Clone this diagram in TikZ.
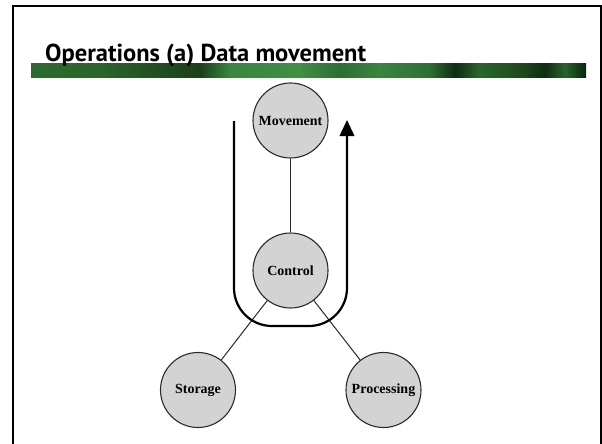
\documentclass[tikz,border=0pt]{standalone}
\usepackage{fontspec}
\usetikzlibrary{arrows.meta}
\newfontfamily\titlefont{PT Sans}
\newfontfamily\labelfont{Liberation Serif}

\definecolor{bandA}{HTML}{2D6A2D}
\definecolor{bandB}{HTML}{2A652A}
\definecolor{bandC}{HTML}{1E4A1E}
\definecolor{bandD}{HTML}{1A3F1A}
\definecolor{bandE}{HTML}{3A8540}
\definecolor{bandF}{HTML}{3F8F45}
\definecolor{bandG}{HTML}{2E6F32}
\definecolor{bandH}{HTML}{0F2D12}
\definecolor{bandI}{HTML}{0A230C}
\definecolor{nodefill}{HTML}{D3D3D3}
\definecolor{nodeline}{HTML}{2A2A2A}

% textured green title bar, approximated by a horizontal shading
\pgfdeclarehorizontalshading{titlebar}{100bp}{%
  color(0bp)=(bandA);
  color(25bp)=(bandA);
  color(31.2bp)=(bandB);
  color(37.5bp)=(bandC);
  color(40.2bp)=(bandD);
  color(42.9bp)=(bandE);
  color(49.2bp)=(bandF);
  color(52.8bp)=(bandG);
  color(56.4bp)=(bandE);
  color(60.9bp)=(bandG);
  color(63.2bp)=(bandH);
  color(65.4bp)=(bandB);
  color(69.1bp)=(bandC);
  color(71.3bp)=(bandH);
  color(73.1bp)=(bandB);
  color(75bp)=(bandI);
  color(100bp)=(bandI)}

\tikzset{
  unit/.style={circle, minimum size=75pt, inner sep=0pt,
    fill=nodefill, draw=nodeline, line width=1.1pt,
    font=\labelfont\bfseries\fontsize{14}{15}\selectfont},
  link/.style={draw=nodeline, line width=1pt},
  flow/.style={line width=2.2pt, rounded corners=38pt,
    -{Triangle[length=16pt,width=14.5pt]}},
  frameline/.style={line width=2pt, line join=miter}
}

\begin{document}
\begin{tikzpicture}[x=1pt, y=-1pt]
  \useasboundingbox (0,0) rectangle (602,444);

  % slide frame
  \draw[frameline] (13,444) -- (13,6) -- (601,6) -- (601,444);

  % title bar and heading
  \shade[shading=titlebar] (31,63.3) rectangle (586,77.7);
  \node[anchor=base west, inner sep=0pt,
        font=\titlefont\bfseries\fontsize{24.5}{28}\selectfont]
    (title) at (45,61.7) {Operations (a) Data movement};

  % functional units
  \node[unit] (mov)  at (290.5,120.5) {Movement};
  \node[unit] (ctl)  at (290.5,270.5) {Control};
  \node[unit] (sto)  at (198,390)     {Storage};
  \node[unit] (proc) at (383.5,390)   {Processing};

  \draw[link] (mov) -- (ctl);
  \draw[link] (ctl) -- (sto);
  \draw[link] (ctl) -- (proc);

  % data flow path through the control unit
  \coordinate (inTop)  at (234,121);
  \coordinate (inBot)  at (234,326);
  \coordinate (outBot) at (347,326);
  \coordinate (outTop) at (347,120);
  \draw[flow] (inTop) -- (inBot) -- (outBot) -- (outTop);
\end{tikzpicture}
\end{document}
